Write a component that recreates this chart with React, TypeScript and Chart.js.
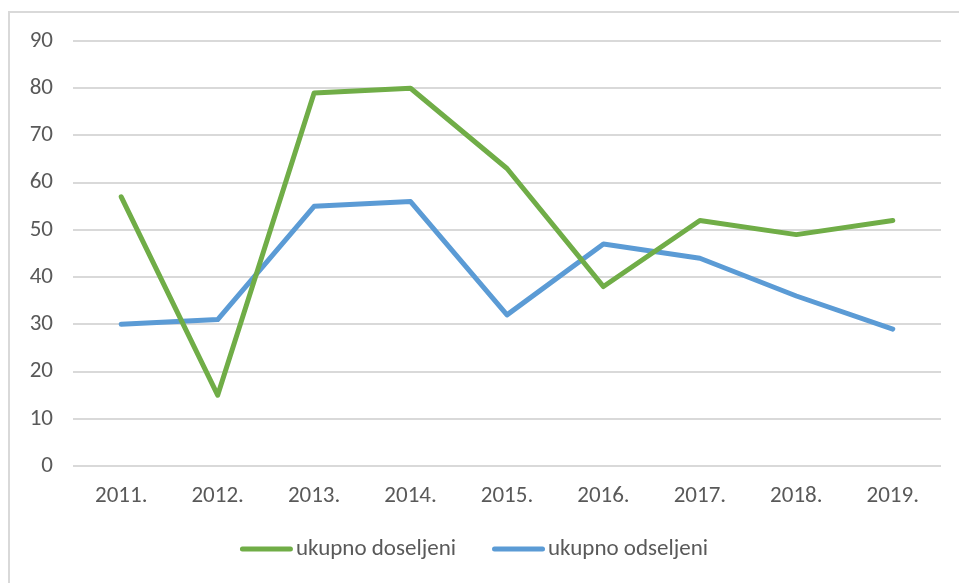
import React, { useEffect, useRef } from "react";
import { Chart, registerables } from "chart.js";

Chart.register(...registerables);

const categories = ["2011.", "2012.", "2013.", "2014.", "2015.", "2016.", "2017.", "2018.", "2019."];
const doseljeni = [57, 15, 79, 80, 63, 38, 52, 49, 52];
const odseljeni = [30, 31, 55, 56, 32, 47, 44, 36, 29];
const seriesNames = ["ukupno doseljeni", "ukupno odseljeni"];

const FONT = "Carlito, Lato, sans-serif";
const FONT_SIZE = 23;
const TEXT_COLOR = "#595959";

const framePlugin = {
  id: "frame",
  beforeDraw(chart: any) {
    const ctx = chart.ctx;
    ctx.save();
    ctx.fillStyle = "#ffffff";
    ctx.fillRect(0, 0, chart.width, chart.height);
    ctx.strokeStyle = "#d9d9d9";
    ctx.lineWidth = 2;
    ctx.beginPath();
    ctx.moveTo(9, chart.height + 5);
    ctx.lineTo(9, 12);
    ctx.lineTo(chart.width + 5, 12);
    ctx.stroke();
    ctx.restore();
  },
};

const legendPlugin = {
  id: "customLegend",
  afterDraw(chart: any) {
    const ctx = chart.ctx;
    ctx.save();
    ctx.font = `${FONT_SIZE}px ${FONT}`;
    const boxW = 53;
    const gapText = 3;
    const gapItems = 36;
    const items = chart.data.datasets.map((d: any) => ({
      label: d.label,
      color: d.borderColor,
      w: boxW + gapText + ctx.measureText(d.label).width,
    }));
    const total = items.reduce((s: number, it: any) => s + it.w, 0) + gapItems * (items.length - 1);
    let x = (chart.width - 11 - total) / 2;
    const y = 549;
    items.forEach((it: any) => {
      ctx.strokeStyle = it.color;
      ctx.lineWidth = 5;
      ctx.lineCap = "round";
      ctx.beginPath();
      ctx.moveTo(x + 2.5, y);
      ctx.lineTo(x + boxW - 2.5, y);
      ctx.stroke();
      ctx.fillStyle = TEXT_COLOR;
      ctx.textBaseline = "middle";
      ctx.textAlign = "left";
      ctx.fillText(it.label, x + boxW + gapText, y);
      x += it.w + gapItems;
    });
    ctx.restore();
  },
};

export default function App() {
  const ref = useRef<HTMLCanvasElement>(null);
  useEffect(() => {
    document.body.style.margin = "0";
    document.body.style.overflow = "hidden";
    const chart = new Chart(ref.current!, {
      type: "line",
      data: {
        labels: categories,
        datasets: [
          {
            label: seriesNames[0],
            data: doseljeni,
            borderColor: "#70ad47",
            backgroundColor: "#70ad47",
            borderWidth: 5,
            pointRadius: 0,
            tension: 0,
            borderCapStyle: "round",
            borderJoinStyle: "round",
          },
          {
            label: seriesNames[1],
            data: odseljeni,
            borderColor: "#5b9bd5",
            backgroundColor: "#5b9bd5",
            borderWidth: 5,
            pointRadius: 0,
            tension: 0,
            borderCapStyle: "round",
            borderJoinStyle: "round",
          },
        ],
      },
      options: {
        responsive: false,
        animation: false,
        layout: { padding: { left: 0, right: 18, top: 41, bottom: 57 } },
        plugins: {
          tooltip: { enabled: false },
          legend: { display: false },
        },
        scales: {
          x: {
            offset: true,
            grid: { display: false, drawTicks: false },
            border: { display: false },
            ticks: { font: { family: FONT, size: FONT_SIZE }, color: TEXT_COLOR, padding: 16, maxRotation: 0, autoSkip: false },
            afterFit: (s: any) => {
              s.height = 60;
            },
          },
          y: {
            min: 0,
            max: 90,
            ticks: { stepSize: 10, font: { family: FONT, size: FONT_SIZE }, color: TEXT_COLOR, padding: 20 },
            grid: { color: "#d9d9d9", lineWidth: 2, drawTicks: false },
            border: { display: false },
            afterFit: (s: any) => {
              s.width = 73;
            },
          },
        },
      },
      plugins: [framePlugin, legendPlugin],
    });
    return () => chart.destroy();
  }, []);
  return (
    <canvas
      ref={ref}
      width={959}
      height={583}
      style={{ position: "fixed", left: 0, top: 0, width: 959, height: 583 }}
    />
  );
}
